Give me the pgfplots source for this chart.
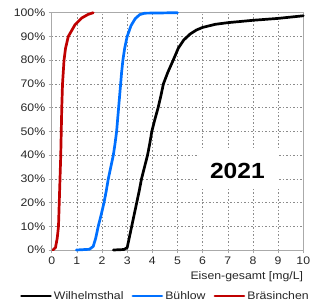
\documentclass[border=0pt]{standalone}
\usepackage{pgfplots}
\pgfplotsset{compat=1.18}
\usepackage{fontspec}
\setmainfont[FakeStretch=1.12]{Liberation Sans}
\definecolor{cblue}{RGB}{0,112,255}
\definecolor{cred}{RGB}{192,0,0}
\definecolor{gridc}{RGB}{140,140,140}
\definecolor{axc}{RGB}{170,170,170}
\begin{document}
\begin{tikzpicture}
\useasboundingbox (0,0) rectangle (312bp,306bp);
\begin{axis}[
  at={(51.7bp,56bp)}, anchor=south west,
  scale only axis, width=251.6bp, height=237.3bp,
  xmin=0, xmax=10, ymin=0, ymax=100,
  xtick={0,1,...,10}, ytick={0,10,...,100},
  yticklabel={\pgfmathprintnumber{\tick}\%},
  /pgf/number format/assume math mode=true,
  tick label style={font=\fontsize{11}{13}\selectfont, text=black!85},
  grid=major,
  major grid style={gridc, dash pattern=on 1.5bp off 2bp, line width=0.6bp},
  axis line style={axc, line width=0.8bp},
  tick style={axc, line width=0.6bp},
  tick align=outside, major tick length=3bp,
  xtick pos=bottom, ytick pos=left,
  xlabel={Eisen-gesamt [mg/L]},
  xlabel style={at={(rel axis cs:1,-0.114)}, anchor=east, font=\fontsize{11}{13}\selectfont, text=black!85, inner sep=0pt},
  legend columns=3,
  legend style={at={(0.452,-0.194)}, anchor=center, draw=none, fill=none,
    font=\fontsize{11}{13}\selectfont, text=black!85,
    /tikz/every even column/.append style={column sep=6bp}},
  legend image code/.code={\draw[#1, line width=2.8bp] (0bp,0bp) -- (29bp,0bp);},
  every axis plot/.append style={line width=2.7bp, line join=round, line cap=round},
  clip=false,
]
\addplot[black] coordinates {
(2.45,0)(2.87,0.2)(3.0,1)(3.08,5)(3.18,10)(3.28,15)(3.38,20)(3.48,25)(3.57,30)(3.69,35)(3.81,40)(3.9,45)(3.98,50)(4.1,55)(4.23,60)(4.34,65)(4.44,70)(4.62,75)(4.83,80)(5.03,85)(5.25,88.5)(5.5,91)(5.75,92.7)(6.0,93.8)(6.5,95.1)(7.0,95.8)(8.0,96.8)(9.0,97.6)(10,98.7)};
\addlegendentry{Wilhelmsthal}
\addplot[cblue] coordinates {
(0.98,0)(1.5,0.3)(1.65,1.5)(1.75,5)(1.85,10)(1.97,15)(2.08,20)(2.17,25)(2.25,30)(2.35,35)(2.45,40)(2.52,45)(2.58,50)(2.62,55)(2.66,60)(2.70,65)(2.74,70)(2.78,75)(2.83,80)(2.9,85)(3.0,90)(3.15,94.5)(3.32,97.5)(3.5,99.2)(3.7,99.8)(5.0,100)};
\addlegendentry{Bühlow}
\addplot[cred] coordinates {
(0.05,0)(0.15,1)(0.22,5)(0.27,10)(0.30,20)(0.33,30)(0.36,40)(0.38,50)(0.40,60)(0.43,70)(0.49,80)(0.55,85)(0.66,90)(0.93,95)(1.2,97.8)(1.45,99.3)(1.65,100)};
\addlegendentry{Bräsinchen}
\fill[white] (axis cs:5.85,26.5) rectangle (axis cs:9.05,43);
\node[inner sep=0pt, font=\fontsize{22}{24}\selectfont\bfseries] at (axis cs:7.38,33.5) {2021};
\end{axis}
\end{tikzpicture}
\end{document}
